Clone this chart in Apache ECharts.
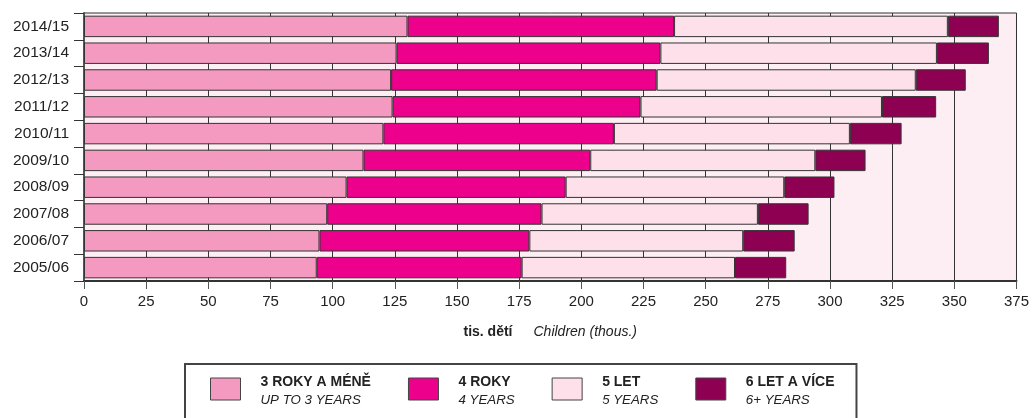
<!DOCTYPE html>
<html>
<head>
<meta charset="utf-8">
<script src="https://cdn.jsdelivr.net/npm/echarts@6/dist/echarts.min.js"></script>
<style>
html,body{margin:0;padding:0;background:#fff;}
#chart{width:1032px;height:418px;}
</style>
</head>
<body>
<div id="chart"></div>
<script>
const categories = ['2005/06','2006/07','2007/08','2008/09','2009/10','2010/11','2011/12','2012/13','2013/14','2014/15'];
const upTo3 = [93.6, 94.7, 97.8, 105.6, 112.4, 120.4, 124.1, 123.5, 125.7, 130.1];
const age4  = [82.4, 84.4, 86.2, 88.1, 91.2, 92.7, 99.7, 106.8, 106.1, 107.2];
const age5  = [85.8, 86.0, 87.0, 87.9, 90.5, 94.9, 97.1, 104.2, 111.2, 110.1];
const age6  = [20.6, 20.7, 20.4, 20.2, 20.2, 20.8, 21.8, 20.1, 20.9, 20.5];
const seriesNames = ['3 ROKY A MÉNĚ','4 ROKY','5 LET','6 LET A VÍCE'];
const seriesNamesEn = ['UP TO 3 YEARS','4 YEARS','5 YEARS','6+ YEARS'];
const xTicks = [0,25,50,75,100,125,150,175,200,225,250,275,300,325,350,375];
const colors = ['#f49ac1','#ec008c','#fde0ea','#8e0052'];

const chart = echarts.init(document.getElementById('chart'), null, {renderer:'canvas'});
const values = [upTo3, age4, age5, age6];
const font = 'Liberation Sans, Arial, Helvetica, sans-serif';

const option = {
  animation:false,
  textStyle:{fontFamily:font},
  grid:{left:84, right:14, top:13, bottom:137, show:true, backgroundColor:'#fdeef4', borderColor:'#333', borderWidth:1},
  xAxis:{
    type:'value', min:xTicks[0], max:xTicks[xTicks.length-1], interval:25,
    axisLine:{show:true, lineStyle:{color:'#333', width:2}},
    axisTick:{show:true, length:8, lineStyle:{color:'#555'}},
    axisLabel:{fontSize:15, color:'#222', margin:13, fontFamily:font},
    splitLine:{show:true, lineStyle:{color:'#333', width:1}},
    name:'{b|tis. dětí}{i|Children (thous.)}',
    nameLocation:'middle', nameGap:44,
    nameTextStyle:{rich:{
      b:{fontWeight:'bold', fontSize:14, color:'#222', padding:[0,21,0,0], fontFamily:font},
      i:{fontStyle:'italic', fontSize:14, color:'#222', fontFamily:font}
    }}
  },
  yAxis:{
    type:'category', data:categories,
    axisLine:{show:true, lineStyle:{color:'#555', width:2}},
    axisTick:{show:true, length:10, lineStyle:{color:'#333'}},
    axisLabel:{fontSize:15.5, color:'#222', margin:15, fontFamily:font},
    splitLine:{show:false}
  },
  legend:{
    left:185, top:364, orient:'horizontal',
    padding:[11,22,40,25],
    borderColor:'#444', borderWidth:2,
    itemWidth:30, itemHeight:22, itemGap:37,
    icon:'rect', selectedMode:false,
    itemStyle:{borderColor:'#444', borderWidth:1},
    data:seriesNames,
    formatter:function(name){
      const i = seriesNames.indexOf(name);
      return '{b|' + name + '}\n{i|' + seriesNamesEn[i] + '}';
    },
    textStyle:{
      padding:[4,0,0,15],
      rich:{
        b:{fontWeight:'bold', fontSize:14, color:'#222', lineHeight:18, fontFamily:font},
        i:{fontStyle:'italic', fontSize:13.3, color:'#222', lineHeight:18, fontFamily:font}
      }
    }
  },
  series: seriesNames.map(function(n, k){
    return {
      name:n, type:'bar', stack:'total', data:values[k],
      barCategoryGap:'20%',
      itemStyle:{color:colors[k], borderColor:'#333', borderWidth:1}
    };
  })
};
chart.setOption(option);
</script>
</body>
</html>
